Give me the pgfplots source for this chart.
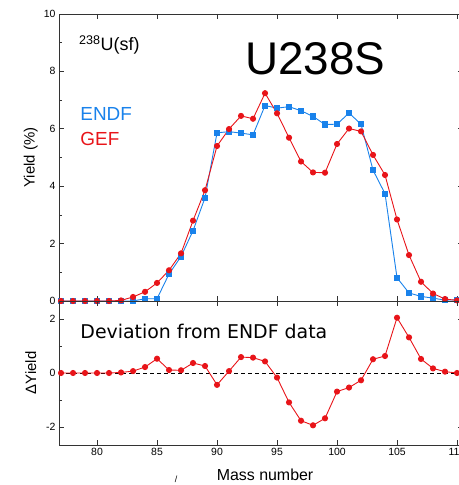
\documentclass[border=0pt]{standalone}
\usepackage{pgfplots}
\pgfplotsset{compat=1.18}
\usepackage{fontspec}
\setmainfont{Liberation Sans}
\newfontfamily\dejavu{DejaVu Sans}
\definecolor{endf}{RGB}{25,130,235}
\definecolor{gef}{RGB}{232,20,25}

\pgfplotstableread{
m endf gef
77 0.00 0.00
78 0.00 0.00
79 0.00 0.00
80 0.00 0.00
81 0.00 0.00
82 0.00 0.02
83 0.00 0.14
84 0.08 0.32
85 0.08 0.63
86 0.94 1.07
87 1.55 1.66
88 2.45 2.80
89 3.60 3.86
90 5.86 5.40
91 5.90 5.99
92 5.85 6.45
93 5.79 6.35
94 6.81 7.24
95 6.72 6.54
96 6.77 5.69
97 6.63 4.86
98 6.43 4.48
99 6.15 4.47
100 6.16 5.47
101 6.55 6.01
102 6.16 5.91
103 4.56 5.09
104 3.74 4.39
105 0.81 2.84
106 0.28 1.60
107 0.16 0.67
108 0.10 0.26
109 0.03 0.07
110 0.04 0.02
}\yields

\pgfplotstableread{
m dy
77 0.00
78 0.00
79 0.00
80 0.00
81 0.00
82 0.02
83 0.07
84 0.22
85 0.53
86 0.11
87 0.10
88 0.37
89 0.26
90 -0.44
91 0.07
92 0.59
93 0.57
94 0.43
95 -0.17
96 -1.09
97 -1.77
98 -1.94
99 -1.68
100 -0.69
101 -0.54
102 -0.27
103 0.51
104 0.63
105 2.05
106 1.32
107 0.52
108 0.17
109 0.05
110 0.00
}\dev

\begin{document}
\begin{tikzpicture}
\pgfplotsset{
  every axis/.append style={
    scale only axis, width=404bp,
    xmin=76.83, xmax=110.5,
    xtick={80,85,...,110},
    tick align=inside,
    major tick length=5bp, minor tick length=3bp,
    axis line style={line width=0.8pt, black!80},
    every tick/.style={line width=0.7pt, black!80},
    tick label style={font=\fontsize{10.5}{12}\selectfont},
    /pgf/number format/assume math mode=true,
    clip=false,
  }
}
\begin{axis}[
  at={(59bp,184bp)}, anchor=south west, height=287bp,
  ymin=0, ymax=10, ytick={0,2,...,10}, minor y tick num=1,
  xticklabels={},
  ylabel={Yield (\%)},
  every axis y label/.style={at={(axis description cs:-0.07,0.5)}, rotate=90, anchor=center, font=\fontsize{15}{17}\selectfont},
]
\addplot[endf, line width=0.9pt, mark=square*, mark size=2.6pt, mark options={solid}] table[x=m, y=endf] {\yields};
\addplot[gef, line width=0.9pt, mark=*, mark size=2.6pt] table[x=m, y=gef] {\yields};
\node[anchor=west, font=\fontsize{18}{20}\selectfont, inner sep=0pt] at (axis cs:78.5,8.93) {\textsuperscript{238}U(sf)};
\node[anchor=west, font=\fontsize{19}{21}\selectfont, text=endf, inner sep=0pt] at (axis cs:78.6,6.5) {ENDF};
\node[anchor=west, font=\fontsize{19}{21}\selectfont, text=gef, inner sep=0pt] at (axis cs:78.6,5.65) {GEF};
\node[anchor=center, font=\fontsize{46}{48}\selectfont, inner sep=0pt] at (axis cs:98.2,8.45) {U238S};
\end{axis}
\begin{axis}[
  at={(59bp,40bp)}, anchor=south west, height=144bp,
  ymin=-2.67, ymax=2.67, ytick={-2,0,2}, minor y tick num=1,
  xlabel={Mass number}, ylabel={ΔYield},
  every axis y label/.style={at={(axis description cs:-0.07,0.5)}, rotate=90, anchor=center, font=\fontsize{15}{17}\selectfont},
  every axis x label/.style={at={(axis description cs:0.51,-0.208)}, anchor=center, font=\fontsize{16}{18}\selectfont},
]
\addplot[black, line width=0.7pt, dash pattern=on 4bp off 3bp] coordinates {(76.83,0) (110.5,0)};
\addplot[gef, line width=0.9pt, mark=*, mark size=2.6pt] table[x=m, y=dy] {\dev};
\node[anchor=west, font=\dejavu\fontsize{19}{21}\selectfont, inner sep=0pt] at (axis cs:78.6,1.55) {Deviation from ENDF data};
\end{axis}
\node[font=\fontsize{9}{10}\selectfont, inner sep=0pt] at (176bp,6bp) {/};
\pgfresetboundingbox
\path[use as bounding box] (0bp,0bp) rectangle (459bp,485bp);
\end{tikzpicture}
\end{document}
